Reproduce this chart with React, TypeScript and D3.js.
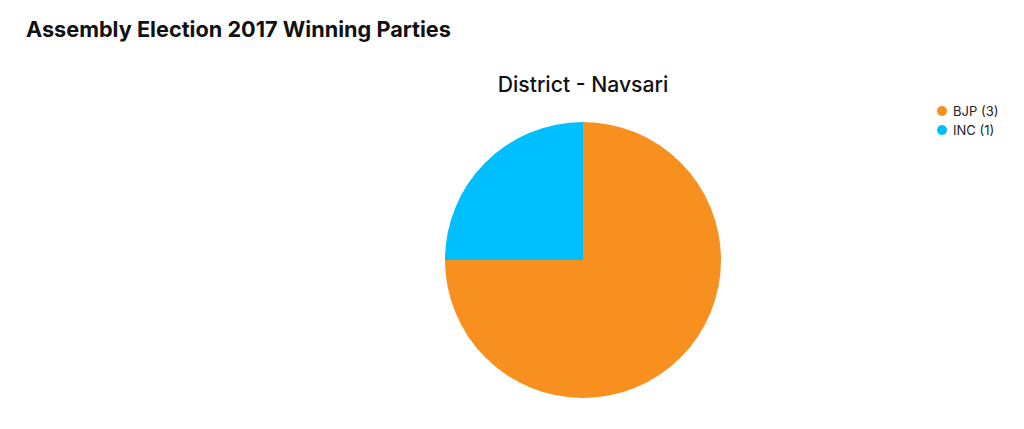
import React, { useEffect, useRef } from "react";
import * as d3 from "d3";

const parties = ["BJP", "INC"];
const seats = [3, 1];
const colors = ["#F7901E", "#00BFFF"];
const chartTitle = "Assembly Election 2017 Winning Parties";
const pieTitle = "District - Navsari";

export default function App() {
  const ref = useRef<SVGSVGElement>(null);
  useEffect(() => {
    const svg = d3.select(ref.current);
    svg.selectAll("*").remove();
    const W = 1024, H = 429;
    svg.append("rect").attr("width", W).attr("height", H).attr("fill", "#fff");
    svg.append("text").attr("x", 26).attr("y", 37)
      .attr("font-family", "Inter, 'Open Sans', sans-serif")
      .attr("font-weight", 700).attr("font-size", 21.7).attr("fill", "#111")
      .text(chartTitle);
    const cx = 583, cy = 260, r = 138;
    svg.append("text").attr("x", cx).attr("y", 92).attr("text-anchor", "middle")
      .attr("font-family", "Inter, 'Open Sans', sans-serif")
      .attr("font-weight", 500).attr("font-size", 21.2).attr("fill", "#111")
      .text(pieTitle);
    const data = parties.map((p, i) => ({ p, v: seats[i], c: colors[i] }));
    const pie = d3.pie<any>().value((d: any) => d.v).sort(null);
    const arc = d3.arc<any>().innerRadius(0).outerRadius(r);
    const g = svg.append("g").attr("transform", `translate(${cx},${cy})`);
    g.selectAll("path").data(pie(data)).enter().append("path")
      .attr("d", arc as any).attr("fill", (d: any) => d.data.c);
    const lg = svg.append("g");
    data.forEach((d, i) => {
      const y = 111 + i * 19;
      lg.append("circle").attr("cx", 942).attr("cy", y).attr("r", 5).attr("fill", d.c);
      lg.append("text").attr("x", 953).attr("y", y + 4.5)
        .attr("font-family", "Inter, 'Open Sans', sans-serif")
        .attr("font-size", 13).attr("fill", "#222")
        .text(`${d.p} (${d.v})`);
    });
  }, []);
  return (
    <svg ref={ref} width={1024} height={429}
      style={{ position: "absolute", top: 0, left: 0, display: "block" }} />
  );
}
